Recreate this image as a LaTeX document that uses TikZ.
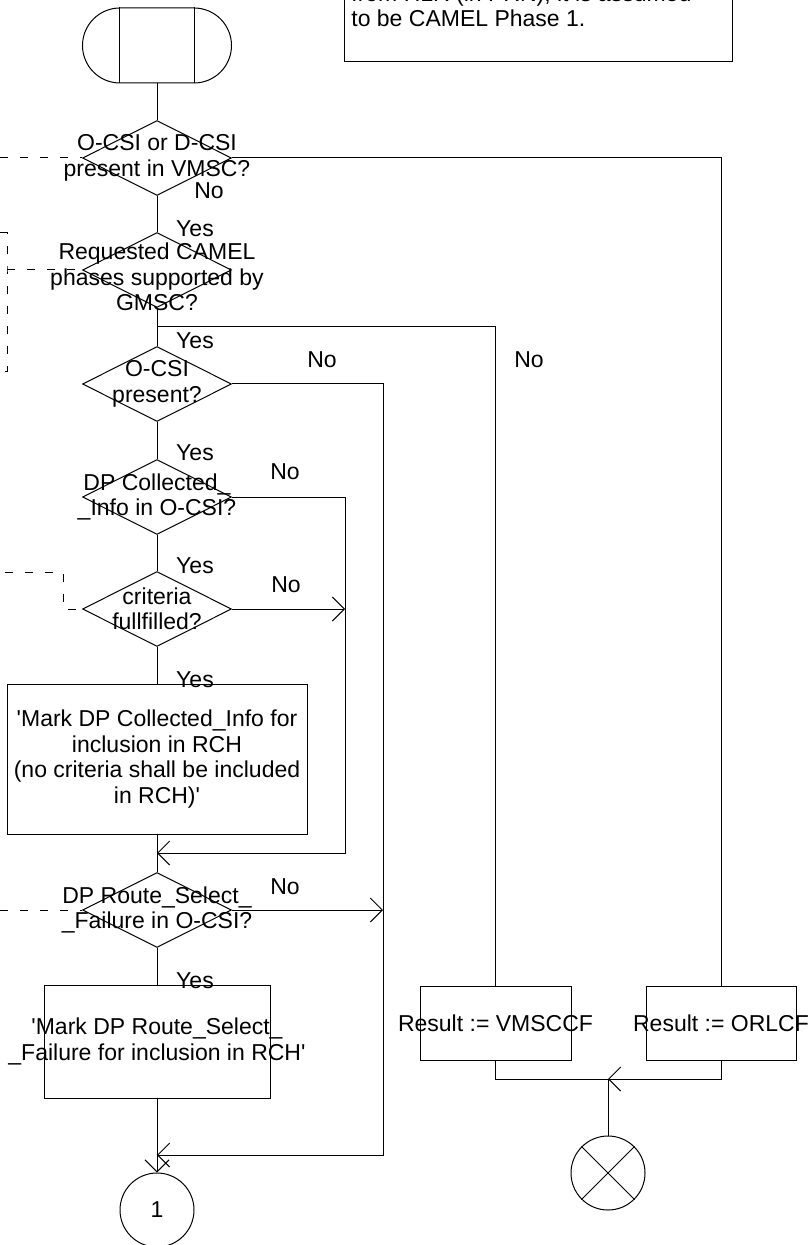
\documentclass[tikz,border=0pt]{standalone}
\usepackage{fontspec}
\setmainfont{Liberation Sans}
\usetikzlibrary{arrows.meta,shapes.geometric,shapes.misc}
\newcommand{\flowfont}{\fontsize{11.5}{12.7}\selectfont}
\tikzset{
  wire/.style={black,line width=0.5pt},
  flow/.style={wire,-{Straight Barb[length=6pt,width=12pt]}},
  comment/.style={wire,dash pattern=on 4pt off 6pt},
  decision/.style={diamond,draw,wire,minimum width=74.5pt,minimum height=37.5pt,inner sep=0pt},
  task/.style={rectangle,draw,wire,inner sep=0pt},
  startsym/.style={rounded rectangle,draw,wire,minimum width=74.5pt,minimum height=37.5pt,inner sep=0pt},
  connector/.style={circle,draw,wire,minimum size=37pt,inner sep=0pt},
  lab/.style={font=\flowfont,inner sep=0pt},
  inside/.style={label={[lab,align=center]center:{#1}}},
}
\begin{document}
\begin{tikzpicture}[x=0.5pt,y=-0.5pt,every node/.style={font=\flowfont}]
  \useasboundingbox (0,0) rectangle (810,1245);

  \node[draw,wire,minimum width=194pt,minimum height=51pt,anchor=south west,inner sep=0pt] (note) at (344,62) {};
  \node[lab,anchor=base west] (note1) at (351,2) {from HLR (in PRN), it is assumed};
  \node[lab,anchor=base west] (note2) at (351,27) {to be CAMEL Phase 1.};

  \node[startsym] (start) at (157,45.5) {};
  \draw[wire] ([xshift=-18.75pt]start.north) -- ([xshift=-18.75pt]start.south);
  \draw[wire] ([xshift=18.75pt]start.north) -- ([xshift=18.75pt]start.south);

  \node[decision,inside={O-CSI or D-CSI\\present in VMSC?}] (d1) at (157,158) {};
  \node[decision,label={[lab,align=center,yshift=-3.5pt]center:{Requested CAMEL\\phases supported by\\GMSC?}}] (d2) at (157,270) {};
  \node[decision,inside={O-CSI\\present?}] (d3) at (157,384) {};
  \node[decision,inside={DP Collected\_\\\_Info in O-CSI?}] (d4) at (157,497) {};
  \node[decision,inside={criteria\\fullfilled?}] (d5) at (157,609) {};
  \node[task,minimum width=150pt,minimum height=75pt,
        inside={\textquotesingle Mark DP Collected\_Info for\\inclusion in RCH\\(no criteria shall be included\\in RCH)\textquotesingle}] (b1) at (157,759) {};
  \node[decision,inside={DP Route\_Select\_\\\_Failure in O-CSI?}] (d6) at (157,910) {};
  \node[task,minimum width=113pt,minimum height=56.5pt,
        inside={\textquotesingle Mark DP Route\_Select\_\\\_Failure for inclusion in RCH\textquotesingle}] (b2) at (157,1041.5) {};
  \node[connector] (con1) at (157,1210) {1};

  \node[task,minimum width=75.5pt,minimum height=37pt,inside={Result := VMSCCF}] (vms) at (495.5,1023) {};
  \node[task,minimum width=75pt,minimum height=37pt,inside={Result := ORLCF}] (orl) at (721,1023) {};
  \node[connector] (stop) at (608,1173) {};
  \draw[wire] (stop.north west) -- (stop.south east);
  \draw[wire] (stop.north east) -- (stop.south west);

  \foreach \xx/\yy/\ans [count=\i] in {
    209/191/No, 195/229/Yes, 195/341/Yes, 322/360/No, 529/360/No,
    195/453/Yes, 285/472/No, 195/566/Yes, 286/585/No, 195/680/Yes,
    285/887/No, 195/981/Yes}{
    \node[lab] (ans\i) at (\xx,\yy) {\ans};
  }

  \coordinate (j2) at (157,327);
  \coordinate (m4) at (157,853);
  \coordinate (c4) at (345,853);
  \coordinate (m6) at (157,1155);
  \coordinate (c3) at (383,1155);
  \coordinate (m7) at (608,1079);

  \draw[wire] (start.south) -- (d1.north);
  \draw[wire] (d1.east) -| (orl.north);
  \draw[wire] (d1.south) -- (d2.north);
  \draw[wire] (d2.south) -- (d3.north);
  \draw[wire] (j2) -| (vms.north);
  \draw[flow] (d3.east) -| (c3) -- (m6);
  \draw[wire] (d3.south) -- (d4.north);
  \draw[flow] (d4.east) -| (c4) -- (m4);
  \draw[wire] (d4.south) -- (d5.north);
  \draw[flow] (d5.east) -- (d5.east -| c4);
  \draw[wire] (d5.south) -- (b1.north);
  \draw[wire] (b1.south) -- (d6.north);
  \draw[flow] (d6.east) -- (d6.east -| c3);
  \draw[wire] (d6.south) -- (b2.north);
  \draw[flow] (b2.south) -- (con1.north);
  \draw[wire] (vms.south) |- (m7) -- (stop.north);
  \draw[flow] (orl.south) |- (m7);

  \coordinate (k1) at (0,158);
  \coordinate (k2) at (7,270);
  \coordinate (k5) at (63,572);
  \coordinate (k6) at (0,910);
  \draw[comment] (k1) -- (d1.west);
  \draw[comment] (0,233) -| (k2) |- (0,372);
  \draw[comment] (k2) -- (d2.west);
  \draw[comment] (5,572) -- (k5) |- (d5.west);
  \draw[comment] (k6) -- (d6.west);
\end{tikzpicture}
\end{document}
